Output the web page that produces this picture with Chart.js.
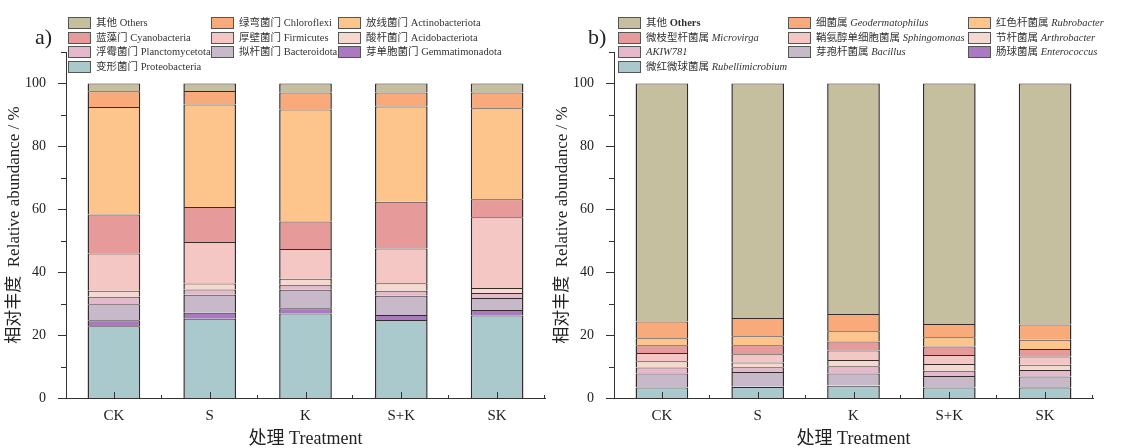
<!DOCTYPE html>
<html>
<head>
<meta charset="utf-8">
<script src="https://cdn.jsdelivr.net/npm/chart.js"></script>
<style>
  body { margin: 0; background: #fff; width: 1141px; height: 448px; overflow: hidden; position: relative;
         font-family: "Liberation Serif", "Noto Sans CJK SC", serif; }
  .panel { position: absolute; top: 0; height: 448px; }
  #wrapA { left: 0; width: 548px; }
  #wrapB { left: 548px; width: 593px; }
  .tag { position: absolute; font-size: 22px; color: #222; line-height: 24px; }
  .leg { position: absolute; font-size: 10.5px; color: #333; white-space: nowrap; line-height: 12px; }
  .leg .box { display: inline-block; width: 21px; height: 10px; border: 1px solid #555; vertical-align: top; margin-right: 5px; }
</style>
</head>
<body>
<div class="panel" id="wrapA"><canvas id="chartA"></canvas></div>
<div class="panel" id="wrapB"><canvas id="chartB"></canvas></div>
<div class="tag" style="left:35px; top:25px;">a)</div>
<div class="tag" style="left:588px; top:25px;">b)</div>
<script>
// tratamentos
const treatments = ['CK', 'S', 'K', 'S+K', 'SK'];

// a) filos, de baixo para cima (%)
const proteobacteria   = [22.8, 25.2, 26.9, 24.8, 26.2];
const gemmatimonadota  = [1.9, 1.9, 1.6, 1.6, 1.8];
const bacteroidota     = [5.1, 5.7, 5.9, 6.1, 3.8];
const planctomycetota  = [2.4, 1.7, 1.6, 1.6, 1.6];
const acidobacteriota  = [1.9, 1.9, 1.9, 2.4, 1.6];
const firmicutes       = [11.8, 13.2, 9.5, 11.0, 22.5];
const cyanobacteria    = [12.4, 11.1, 8.7, 14.9, 5.7];
const actinobacteriota = [34.2, 32.6, 35.6, 30.3, 28.9];
const chloroflexi      = [5.0, 4.3, 5.4, 4.4, 5.0];
const othersPhylum     = [2.5, 2.4, 2.9, 2.9, 2.9];

// b) gêneros, de baixo para cima (%)
const rubellimicrobium = [3.3, 3.5, 3.9, 3.3, 3.3];
const enterococcus     = [0.1, 0.1, 0.1, 0.1, 0.2];
const bacillus         = [4.4, 4.7, 3.8, 3.6, 3.3];
const akiw781          = [1.9, 1.5, 2.3, 1.7, 2.1];
const arthrobacter     = [2.0, 1.5, 2.0, 2.1, 1.7];
const sphingomonas     = [2.6, 2.6, 3.0, 2.9, 2.6];
const microvirga       = [2.5, 2.9, 2.9, 2.7, 2.4];
const rubrobacter      = [2.2, 2.8, 3.2, 2.9, 2.9];
const geodermatophilus = [5.3, 5.8, 5.5, 4.2, 4.9];
const othersGenus      = [75.7, 74.6, 73.3, 76.5, 76.6];

// cores compartilhadas pelos dois gráficos (de baixo para cima)
const colors = ['#a9c9cd', '#aa79c0', '#c7b9ca', '#e4b9cb', '#f5d8ce',
                '#f4c7c4', '#e69a9a', '#fdc58b', '#f9aa7a', '#c5bf9f'];

// nomes: [chinês, latim, itálico]
const namesA = [
  ['变形菌门', 'Proteobacteria', false], ['芽单胞菌门', ' Gemmatimonadota', false],
  ['拟杆菌门', 'Bacteroidota', false], ['浮霉菌门', 'Planctomycetota', false],
  ['酸杆菌门', 'Acidobacteriota', false], ['厚壁菌门', 'Firmicutes', false],
  ['蓝藻门', 'Cyanobacteria', false], ['放线菌门', 'Actinobacteriota', false],
  ['绿弯菌门', 'Chloroflexi', false], ['其他', 'Others', false]
];
const namesB = [
  ['微红微球菌属', 'Rubellimicrobium', true], ['肠球菌属', 'Enterococcus', true],
  ['芽孢杆菌属', 'Bacillus', true], ['', 'AKIW781', true],
  ['节杆菌属', 'Arthrobacter', true], ['鞘氨醇单细胞菌属', 'Sphingomonas', true],
  ['微枝型杆菌属', 'Microvirga', true], ['红色杆菌属', 'Rubrobacter', true],
  ['细菌属', 'Geodermatophilus', true], ['其他', 'Others', false]
];

const seriesA = [proteobacteria, gemmatimonadota, bacteroidota, planctomycetota, acidobacteriota,
                 firmicutes, cyanobacteria, actinobacteriota, chloroflexi, othersPhylum];
const seriesB = [rubellimicrobium, enterococcus, bacillus, akiw781, arthrobacter,
                 sphingomonas, microvirga, rubrobacter, geodermatophilus, othersGenus];

Chart.defaults.font.family = '"Liberation Serif", "Noto Sans CJK SC", serif';
Chart.defaults.color = '#222';

// marcas dos eixos: y para fora, x para dentro
const tickMarks = {
  id: 'tickMarks',
  afterDraw(chart) {
    const ctx = chart.ctx;
    const y = chart.scales.y;
    const x = chart.scales.x;
    ctx.save();
    ctx.strokeStyle = '#333';
    ctx.lineWidth = 1;
    ctx.beginPath();
    y.ticks.forEach(t => {
      const py = Math.round(y.getPixelForValue(t.value)) + 0.5;
      const len = (t.value % 20 === 0 && t.value <= 100) ? 8 : 5;
      ctx.moveTo(y.right - len, py);
      ctx.lineTo(y.right, py);
    });
    const base = x.top;
    treatments.forEach((c, i) => {
      const px = Math.round(x.getPixelForValue(i)) + 0.5;
      ctx.moveTo(px, base);
      ctx.lineTo(px, base - 6);
      const pm = Math.round(x.getPixelForValue(i + 0.5)) - 0.5;
      ctx.moveTo(pm, base);
      ctx.lineTo(pm, base - 3);
    });
    ctx.stroke();
    ctx.restore();
  }
};

function makeChart(id, series, names, rightPad) {
  const datasets = series.map((s, i) => ({
    label: names[i][0] + ' ' + names[i][1],
    data: s,
    backgroundColor: colors[i],
    borderColor: '#342b2b',
    borderWidth: { top: 1, bottom: 0, left: 1.5, right: 1.5 },
    borderSkipped: false,
    categoryPercentage: 1,
    barPercentage: 0.55
  }));
  return new Chart(document.getElementById(id), {
    type: 'bar',
    data: { labels: treatments, datasets: datasets },
    options: {
      responsive: true,
      maintainAspectRatio: false,
      animation: false,
      layout: { padding: { top: 52, right: rightPad, bottom: 0, left: 0 } },
      plugins: { legend: { display: false }, tooltip: { enabled: false } },
      scales: {
        x: {
          stacked: true,
          grid: { display: false },
          border: { display: true, color: '#333', width: 1 },
          ticks: { padding: 1, font: { size: 15 }, color: '#222' },
          title: { display: true, text: '处理 Treatment', font: { size: 18, lineHeight: 1 }, color: '#222', padding: { top: 0, bottom: 0 } },
          afterFit(scale) { scale.height = 50; }
        },
        y: {
          stacked: true,
          min: 0,
          max: 110,
          grid: { display: false },
          border: { display: true, color: '#333', width: 1 },
          ticks: {
            stepSize: 10,
            padding: 12,
            font: { size: 14 },
            color: '#222',
            callback: v => (v % 20 === 0 && v <= 100) ? v : ''
          },
          title: { display: true, text: '相对丰度  Relative abundance / %', font: { size: 17 }, color: '#222', padding: { top: 4, bottom: 0 } },
          afterFit(scale) { scale.width = 66; }
        }
      }
    },
    plugins: [tickMarks]
  });
}

makeChart('chartA', seriesA, namesA, 3);
makeChart('chartB', seriesB, namesB, 48);

// legendas em 3 colunas, do topo da pilha para a base
function buildLegend(series, names, cols, bold) {
  const rows = [23, 37.5, 52, 66.5];
  for (let k = 0; k < series.length; k++) {
    const i = series.length - 1 - k;
    const el = document.createElement('div');
    el.className = 'leg';
    el.style.left = cols[k % 3] + 'px';
    el.style.top = (rows[Math.floor(k / 3)] - 6) + 'px';
    const box = document.createElement('span');
    box.className = 'box';
    box.style.background = colors[i];
    el.appendChild(box);
    const cn = document.createElement('span');
    cn.textContent = names[i][0] ? names[i][0] + ' ' : '';
    el.appendChild(cn);
    const la = document.createElement('span');
    la.textContent = names[i][1];
    if (names[i][2]) la.style.fontStyle = 'italic';
    if (bold && i === series.length - 1) la.style.fontWeight = 'bold';
    el.appendChild(la);
    document.body.appendChild(el);
  }
}
buildLegend(seriesA, namesA, [68, 211, 338], false);
buildLegend(seriesB, namesB, [618, 788, 968], true);
</script>
</body>
</html>
